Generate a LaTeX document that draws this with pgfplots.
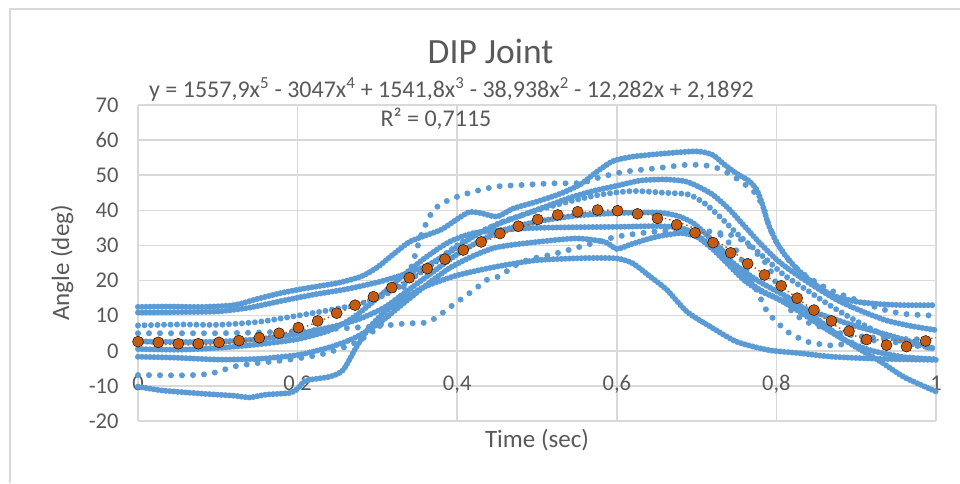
\documentclass[border=0pt]{standalone}
\usepackage{fontspec}
\setmainfont{Carlito}
\usepackage{pgfplots}
\pgfplotsset{compat=1.18}
\definecolor{xlblue}{HTML}{5B9BD5}
\definecolor{xlorange}{HTML}{C55A11}
\definecolor{xltext}{HTML}{595959}
\definecolor{xlgrid}{HTML}{D9D9D9}
\pgfplotsset{
  dense/.style={xlblue, line width=6pt, line cap=round, dash pattern=on 0pt off 4pt, smooth, tension=0.4},
  medium/.style={xlblue, line width=6pt, line cap=round, dash pattern=on 0pt off 6.5pt, smooth, tension=0.4},
  sparse/.style={xlblue, line width=6pt, line cap=round, dash pattern=on 0pt off 11pt, smooth, tension=0.4},
}
\begin{document}
\begin{tikzpicture}[x=1pt,y=1pt]
\useasboundingbox (0,0) rectangle (960,483);
\fill[white] (0,0) rectangle (960,483);
\draw[xlgrid, line width=1.5pt] (10,0) -- (10,474) -- (960,474);
\begin{axis}[
  at={(138pt,62pt)}, anchor=south west,
  scale only axis, width=798pt, height=316pt,
  xmin=0, xmax=1, ymin=-20, ymax=70,
  xtick={0,0.2,0.4,0.6,0.8,1},
  xticklabels={0,{0,2},{0,4},{0,6},{0,8},1},
  ytick={-20,-10,0,10,20,30,40,50,60,70},
  yticklabels={-20,-10,0,10,20,30,40,50,60,70},
  grid=major, major grid style={xlgrid, line width=1.5pt},
  axis line style={draw=none}, tick style={draw=none},
  ticklabel style={font=\fontsize{22.5}{27}\selectfont, text=xltext},
  xticklabel style={anchor=base, yshift=31pt},
  yticklabel style={xshift=-16pt},
  xlabel={Time (sec)}, ylabel={Angle (deg)},
  label style={font=\fontsize{25}{30}\selectfont, text=xltext},
  xlabel style={at={(axis description cs:0.5,-0.0823)}, anchor=base},
  ylabel style={at={(axis description cs:-0.0952,0.5)}, anchor=center},
  clip=false,
]
% C1
\addplot[dense] coordinates {(0,12.5)(0.04,12.6)(0.08,12.5)(0.12,13.0)(0.15,14.8)(0.18,16.5)(0.21,17.8)(0.25,19.3)(0.28,21.2)(0.30,23.8)(0.32,27.5)(0.34,31)(0.36,32.8)(0.38,34.5)(0.40,37.5)(0.415,39.5)(0.43,39.2)(0.45,38.2)(0.47,40.5)(0.50,42.5)(0.53,44.8)(0.555,47.5)(0.575,51)(0.595,54)(0.62,55.3)(0.66,56.2)(0.70,56.8)(0.72,55.8)(0.735,53)(0.75,50.5)(0.765,48.5)(0.775,46)(0.782,42)(0.79,36)(0.80,31)(0.81,27.5)(0.825,23.5)(0.845,19.5)(0.87,15.8)(0.90,14)(0.93,13.3)(0.96,13)(1,13)};
% C2
\addplot[dense] coordinates {(0,10.9)(0.05,11)(0.10,11.2)(0.14,12.3)(0.18,14.2)(0.22,16)(0.26,17.5)(0.30,19.5)(0.33,21.5)(0.36,24)(0.39,28)(0.42,32.5)(0.45,36)(0.48,38.5)(0.51,41)(0.54,43.5)(0.57,45.5)(0.60,47)(0.63,48.5)(0.66,48.8)(0.685,48.3)(0.70,47)(0.72,44.5)(0.74,40.5)(0.76,35.5)(0.78,30.5)(0.80,26)(0.82,22.5)(0.85,18)(0.88,14)(0.91,11)(0.94,8.5)(0.97,7)(1,5.9)};
% C3
\addplot[medium] coordinates {(0,7.2)(0.05,7.5)(0.10,7.4)(0.15,8.2)(0.20,10)(0.25,12)(0.28,13.5)(0.31,16)(0.34,20)(0.37,25)(0.40,30)(0.43,34)(0.46,37)(0.50,40)(0.54,42.5)(0.58,44.5)(0.62,45.5)(0.66,45)(0.69,44.5)(0.71,42)(0.73,38)(0.75,33.5)(0.77,29.5)(0.79,25.5)(0.81,21.5)(0.84,17)(0.87,12.5)(0.90,8.5)(0.93,5)(0.96,2.5)(1,0.5)};
% C4
\addplot[dense] coordinates {(0,2.7)(0.05,2.5)(0.10,2.6)(0.15,3.3)(0.20,4.8)(0.25,7.2)(0.28,9.3)(0.31,12.5)(0.34,17.5)(0.37,22.5)(0.40,27.5)(0.43,31.5)(0.46,34.5)(0.50,36.8)(0.55,38.5)(0.60,39.2)(0.65,39.4)(0.675,38.5)(0.695,36.5)(0.715,32.5)(0.735,28)(0.755,22)(0.775,18)(0.80,15)(0.83,12.5)(0.86,10)(0.90,7)(0.94,4.5)(0.97,2.5)(1,0.5)};
% C5
\addplot[dense] coordinates {(0,0.5)(0.05,0.3)(0.10,0.8)(0.15,1.8)(0.20,3.3)(0.24,5.8)(0.27,9.5)(0.30,15)(0.33,21)(0.36,26.5)(0.39,31)(0.42,33.5)(0.46,34.5)(0.50,35)(0.55,35.2)(0.60,35.3)(0.65,35.5)(0.68,35)(0.70,33)(0.72,29.5)(0.74,26)(0.76,22.5)(0.78,19.5)(0.80,17)(0.82,14.5)(0.84,11)(0.86,7.5)(0.88,4)(0.90,1)(0.93,-3)(0.96,-7.5)(1,-11.6)};
% C6
\addplot[dense] coordinates {(0,-1.7)(0.05,-2)(0.10,-2.5)(0.15,-2.3)(0.20,-1.2)(0.24,1)(0.27,3.5)(0.30,7.5)(0.33,13)(0.36,18.5)(0.39,23.5)(0.42,27)(0.45,29.5)(0.50,31)(0.55,32)(0.585,31)(0.60,29)(0.62,30.5)(0.65,32.5)(0.68,33.5)(0.70,32.5)(0.72,29)(0.74,24.5)(0.76,20)(0.78,17)(0.80,15)(0.83,11)(0.86,6.5)(0.89,2.5)(0.92,0)(0.96,-1.8)(1,-2.4)};
% C7
\addplot[dense] coordinates {(0,-10.2)(0.03,-11.3)(0.08,-12.2)(0.12,-12.8)(0.14,-13.3)(0.16,-12.5)(0.19,-12)(0.20,-10.8)(0.21,-8.5)(0.24,-7.4)(0.257,-5.5)(0.274,1.2)(0.291,6.9)(0.312,11.6)(0.337,15.4)(0.36,18.3)(0.40,21.5)(0.45,24)(0.50,25.8)(0.56,26.4)(0.60,26.3)(0.62,24.9)(0.642,21.1)(0.663,17.3)(0.688,11.1)(0.717,6.9)(0.75,2.6)(0.79,0.2)(0.83,-0.7)(0.87,-1.7)(0.93,-2.3)(1,-2.6)};
% C8
\addplot[sparse] coordinates {(0,5)(0.05,5)(0.10,5)(0.15,5.2)(0.20,5.6)(0.25,6.3)(0.30,7)(0.337,7.8)(0.36,8)(0.374,9.5)(0.392,12.6)(0.422,17.5)(0.437,20.2)(0.454,21.3)(0.47,24)(0.49,26)(0.52,27.5)(0.56,30)(0.60,32.5)(0.65,34)(0.70,34.3)(0.73,33.5)(0.75,32.5)(0.77,29)(0.79,24)(0.80,19)(0.81,15)(0.82,11)(0.84,8)(0.86,6.5)(0.88,5)(0.91,4)(0.94,3.5)(0.97,3.3)(1,3.3)};
% C9
\addplot[sparse] coordinates {(0,-6.9)(0.05,-7)(0.08,-6.8)(0.10,-6)(0.12,-4.5)(0.15,-3.5)(0.19,-2.5)(0.23,-1)(0.27,2)(0.30,6.5)(0.32,12)(0.34,22)(0.355,33)(0.37,40)(0.39,43)(0.42,45.3)(0.45,46.8)(0.48,47.2)(0.52,47.7)(0.555,47.8)(0.58,49.5)(0.61,51)(0.65,52)(0.69,53)(0.72,52.5)(0.74,50.5)(0.76,47.5)(0.775,44.5)(0.785,40)(0.79,36)(0.80,31)(0.815,26)(0.83,22.5)(0.85,19.5)(0.87,17)(0.90,14.5)(0.93,12)(0.96,10.5)(1,10)};
% C10
\addplot[sparse] coordinates {(0.73,33)(0.75,28.5)(0.765,22)(0.78,15)(0.79,10.5)(0.80,8.5)(0.81,6)(0.825,4)(0.84,2.5)(0.87,1.5)(0.90,2.5)(0.93,3)(0.96,2)(1,0.5)};
% trendline
\addplot[xlorange, line width=1.5pt, dash pattern=on 1.5pt off 3pt, smooth] coordinates {(0.000,2.19)(0.1,1.82)(0.2,6.13)(0.3,15.9)(0.4,27.67)(0.5,36.6)(0.6,40.08)(0.7,34.6)(0.8,19.28)(0.9,4.1)(1,3.67)};
% mean
\addplot[only marks, mark=*, mark size=5.5pt, mark options={draw=none, fill=xlorange}] coordinates {
(0.000,2.6)(0.0255,2.4)(0.0505,2.0)(0.0756,2.0)(0.1015,2.4)(0.1266,2.9)(0.152,3.7)(0.1767,5.0)(0.2009,6.6)(0.2252,8.5)(0.249,10.7)(0.272,13.0)(0.295,15.4)(0.318,18.0)(0.340,20.8)(0.3625,23.4)(0.3847,26.1)(0.4076,28.7)(0.430,31.0)(0.4536,33.4)(0.4766,35.5)(0.5009,37.4)(0.526,38.7)(0.551,39.6)(0.576,40.1)(0.601,39.9)(0.626,39.0)(0.651,37.7)(0.675,35.9)(0.698,33.6)(0.7206,30.8)(0.7427,27.9)(0.764,24.8)(0.785,21.6)(0.806,18.5)(0.826,15.0)(0.847,11.6)(0.869,8.5)(0.891,5.6)(0.913,3.2)(0.938,1.6)(0.963,1.2)(0.987,2.8)};
\end{axis}
\node[anchor=base, font=\fontsize{35.5}{40}\selectfont, text=xltext] at (490.5,419.7) {DIP Joint};
\node[anchor=base west, font=\fontsize{24}{28}\selectfont, text=xltext, inner sep=0pt] at (149,385.7) {y = 1557,9x\textsuperscript{5} - 3047x\textsuperscript{4} + 1541,8x\textsuperscript{3} - 38,938x\textsuperscript{2} - 12,282x + 2,1892};
\node[anchor=base, font=\fontsize{24}{28}\selectfont, text=xltext, inner sep=0pt] at (436,356) {R² = 0,7115};
\end{tikzpicture}
\end{document}
